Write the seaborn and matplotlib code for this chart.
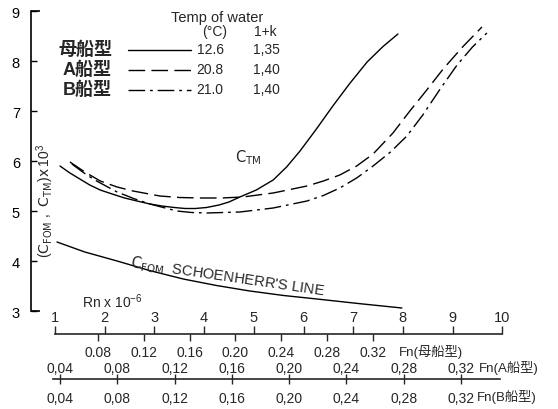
import matplotlib
matplotlib.use("Agg")
import matplotlib.pyplot as plt
import pandas as pd
import seaborn as sns
from matplotlib.lines import Line2D

# ---- data -------------------------------------------------------------
ships = ["母船型", "A船型", "B船型"]
water_temp = ["12.6", "20.8", "21.0"]
form_factor = ["1,35", "1,40", "1,40"]

# total resistance coefficient C_TM x 10^3 against Rn x 10^-6
rn_mother = [1.10, 1.30, 1.50, 1.70, 1.91, 2.15, 2.40, 2.65, 2.91, 3.15, 3.40, 3.62,
             3.82, 4.05, 4.30, 4.50, 4.72, 5.05, 5.39, 5.66, 5.93, 6.26, 6.59, 6.93,
             7.28, 7.60, 7.90]
ctm_mother = [5.90, 5.76, 5.64, 5.52, 5.42, 5.34, 5.26, 5.20, 5.14, 5.10, 5.07, 5.05,
              5.05, 5.07, 5.12, 5.18, 5.28, 5.42, 5.62, 5.88, 6.20, 6.64, 7.10, 7.55,
              7.98, 8.29, 8.54]

rn_a = [1.30, 1.60, 1.91, 2.25, 2.57, 3.11, 3.50, 3.92, 4.35, 4.78, 5.39, 6.07, 6.40,
        6.73, 7.07, 7.40, 7.80, 8.14, 8.48, 8.81, 9.20, 9.59]
ctm_a = [5.98, 5.78, 5.60, 5.48, 5.40, 5.30, 5.27, 5.26, 5.26, 5.28, 5.36, 5.50, 5.60,
         5.72, 5.90, 6.14, 6.56, 7.00, 7.42, 7.84, 8.28, 8.68]

rn_b = [1.34, 1.57, 1.80, 2.25, 2.58, 2.91, 3.45, 3.75, 4.06, 4.72, 5.39, 6.07, 6.40,
        6.73, 7.07, 7.40, 7.75, 8.08, 8.40, 8.75, 9.09, 9.40, 9.69]
ctm_b = [5.94, 5.77, 5.62, 5.38, 5.25, 5.14, 5.00, 4.97, 4.96, 4.98, 5.06, 5.20, 5.31,
         5.46, 5.66, 5.90, 6.18, 6.50, 6.92, 7.44, 7.92, 8.28, 8.56]

# Schoenherr friction line C_FOM x 10^3
rn_fom = [1.04, 1.60, 2.25, 2.90, 3.58, 4.25, 4.92, 5.60, 6.27, 7.10, 7.98]
cfom = [4.38, 4.18, 4.00, 3.81, 3.64, 3.51, 3.40, 3.31, 3.24, 3.15, 3.06]

y_ticks = [3, 4, 5, 6, 7, 8, 9]
rn_ticks = [1, 2, 3, 4, 5, 6, 7, 8, 9, 10]
fn_mother_ticks = [0.08, 0.12, 0.16, 0.20, 0.24, 0.28, 0.32]
fn_ab_ticks = [0.04, 0.08, 0.12, 0.16, 0.20, 0.24, 0.28, 0.32]

# ---- style ------------------------------------------------------------
sns.set_style("white")
plt.rcParams["font.family"] = ["Liberation Sans", "Noto Sans CJK JP"]
plt.rcParams["mathtext.default"] = "regular"
plt.rcParams["lines.scale_dashes"] = False

line_dashes = {"母船型": "", "A船型": (12, 4.5), "B船型": (12, 3.5, 2, 3.5)}
LW = 1.0
INK = "black"

W, H = 558, 410
fig = plt.figure(figsize=(W / 100, H / 100), dpi=100)


def fx(x):
    return x / W


def fy(y):
    return 1 - y / H


# scale relations between the three abscissae (pixel -> value)
def rn_at(px):
    return 1 + (px - 55) / 49.7


def fn0_at(px):
    return 0.08 + (px - 98) / 1145.8


def fnab_at(px):
    return 0.04 + (px - 60) / 1432.0


X0, X1 = 31, 512


def scale_axes(y_px, lo, hi):
    """Zero-height axes used as a bare horizontal scale at pixel row y_px."""
    a = fig.add_axes([fx(X0), fy(y_px), (X1 - X0) / W, 1e-4])
    a.set_xlim(lo, hi)
    a.set_ylim(0, 1)
    a.patch.set_visible(False)
    for side in a.spines:
        a.spines[side].set_visible(False)
    a.set_yticks([])
    return a


# ---- main curves ------------------------------------------------------
ax = fig.add_axes([fx(X0), fy(312), (X1 - X0) / W, 300 / H])

df = pd.concat([
    pd.DataFrame({"rn": rn_mother, "c": ctm_mother, "ship": ships[0]}),
    pd.DataFrame({"rn": rn_a, "c": ctm_a, "ship": ships[1]}),
    pd.DataFrame({"rn": rn_b, "c": ctm_b, "ship": ships[2]}),
], ignore_index=True)

sns.lineplot(data=df, x="rn", y="c", style="ship", style_order=ships,
             dashes=line_dashes, color=INK, linewidth=LW, estimator=None,
             legend=False, ax=ax)
sns.lineplot(x=rn_fom, y=cfom, color=INK, linewidth=LW, estimator=None,
             legend=False, ax=ax)

ax.set_xlim(rn_at(X0), rn_at(X1))
ax.set_ylim(3, 9)
ax.set_xlabel("")
ax.set_ylabel("")
ax.set_xticks([])
ax.set_yticks(y_ticks)
ax.set_yticklabels([str(v) for v in y_ticks])
ax.tick_params(axis="y", direction="in", length=4, width=1.0, pad=8,
               labelsize=10.5, colors=INK, left=True)
for side in ("top", "right", "bottom"):
    ax.spines[side].set_visible(False)
ax.spines["left"].set_color(INK)
ax.spines["left"].set_linewidth(1.2)
ax.patch.set_visible(False)
# bracket ends of the ordinate
ax.hlines([3, 9], 0, 9 / (X1 - X0), transform=ax.get_yaxis_transform(),
          color=INK, linewidth=1.2, clip_on=False)

fig.text(fx(45), fy(201), r"$(\mathrm{C_{FOM}}$ ,  $\mathrm{C_{TM}})\mathrm{x}\,10^{3}$",
         rotation=90, ha="center", va="center", fontsize=10)
fig.text(fx(248), fy(158), r"$\mathrm{C_{TM}}$", ha="center", va="center", fontsize=10.5)
fig.text(fx(227), fy(277), r"$\mathrm{C_{FOM}}$  SCHOENHERR'S LINE",
         rotation=-8.3, rotation_mode="anchor", ha="center", va="center", fontsize=10.5)

# ---- Rn scale with Fn of the parent hull ----------------------------
ax_rn = scale_axes(335, rn_at(X0), rn_at(X1))
ax_rn.spines["top"].set_visible(True)
ax_rn.spines["top"].set_bounds(1, 10)
ax_rn.spines["top"].set_linewidth(1.2)
ax_rn.xaxis.set_ticks_position("top")
ax_rn.set_xticks(rn_ticks)
ax_rn.set_xticklabels([str(v) for v in rn_ticks])
ax_rn.tick_params(axis="x", direction="out", length=5.8, width=1.0, pad=1.5,
                  labelsize=10.5, top=True, labeltop=True, bottom=False, labelbottom=False)

ax_fn0 = scale_axes(335, fn0_at(X0), fn0_at(X1))
ax_fn0.set_xticks(fn_mother_ticks)
ax_fn0.set_xticklabels([f"{v:.2f}" for v in fn_mother_ticks])
ax_fn0.tick_params(axis="x", direction="out", length=5, width=1.0, pad=3,
                   labelsize=10, bottom=True, labelbottom=True)

fig.text(fx(399), fy(352), "Fn(母船型)", ha="left", va="center", fontsize=9.5)
fig.text(fx(82), fy(302), r"Rn x 10$^{-6}$", ha="left", va="center", fontsize=10)

# ---- Fn scale shared by hulls A (above) and B (below) ----------------
ab_labels = [f"{v:.2f}".replace(".", ",") for v in fn_ab_ticks]

ax_b = scale_axes(380, fnab_at(X0), fnab_at(X1))
ax_b.spines["bottom"].set_visible(True)
ax_b.spines["bottom"].set_bounds(fnab_at(53), fnab_at(500))
ax_b.spines["bottom"].set_linewidth(1.2)
ax_b.set_xticks(fn_ab_ticks)
ax_b.set_xticklabels(ab_labels)
ax_b.tick_params(axis="x", direction="inout", length=7.2, width=1.0, pad=5,
                 labelsize=10, bottom=True, labelbottom=True, top=False, labeltop=False)

ax_a = scale_axes(380, fnab_at(X0), fnab_at(X1))
ax_a.xaxis.set_ticks_position("top")
ax_a.set_xticks(fn_ab_ticks)
ax_a.set_xticklabels(ab_labels)
ax_a.tick_params(axis="x", direction="out", length=0, pad=3,
                 labelsize=10, top=True, labeltop=True, bottom=False, labelbottom=False)

fig.text(fx(479), fy(368), "Fn(A船型)", ha="left", va="center", fontsize=9.5)
fig.text(fx(477), fy(397), "Fn(B船型)", ha="left", va="center", fontsize=9.5)

# ---- key --------------------------------------------------------------
fig.text(fx(217), fy(18), "Temp of water", ha="center", va="center", fontsize=10.5)
fig.text(fx(215), fy(32), "(°C)", ha="center", va="center", fontsize=10)
fig.text(fx(265), fy(32), "1+k", ha="center", va="center", fontsize=10)
for i, name in enumerate(ships):
    yrow = 50 + 20 * i
    fig.text(fx(112), fy(yrow), name, ha="right", va="center", fontsize=13,
             fontweight="bold")
    key_line = Line2D([fx(128), fx(191)], [fy(yrow + 1), fy(yrow + 1)],
                      color=INK, linewidth=LW)
    if line_dashes[name]:
        key_line.set_dashes(line_dashes[name])
    fig.add_artist(key_line)
    fig.text(fx(210), fy(yrow), water_temp[i], ha="center", va="center", fontsize=10)
    fig.text(fx(266), fy(yrow), form_factor[i], ha="center", va="center", fontsize=10)

fig.savefig("out.png", dpi=100)
